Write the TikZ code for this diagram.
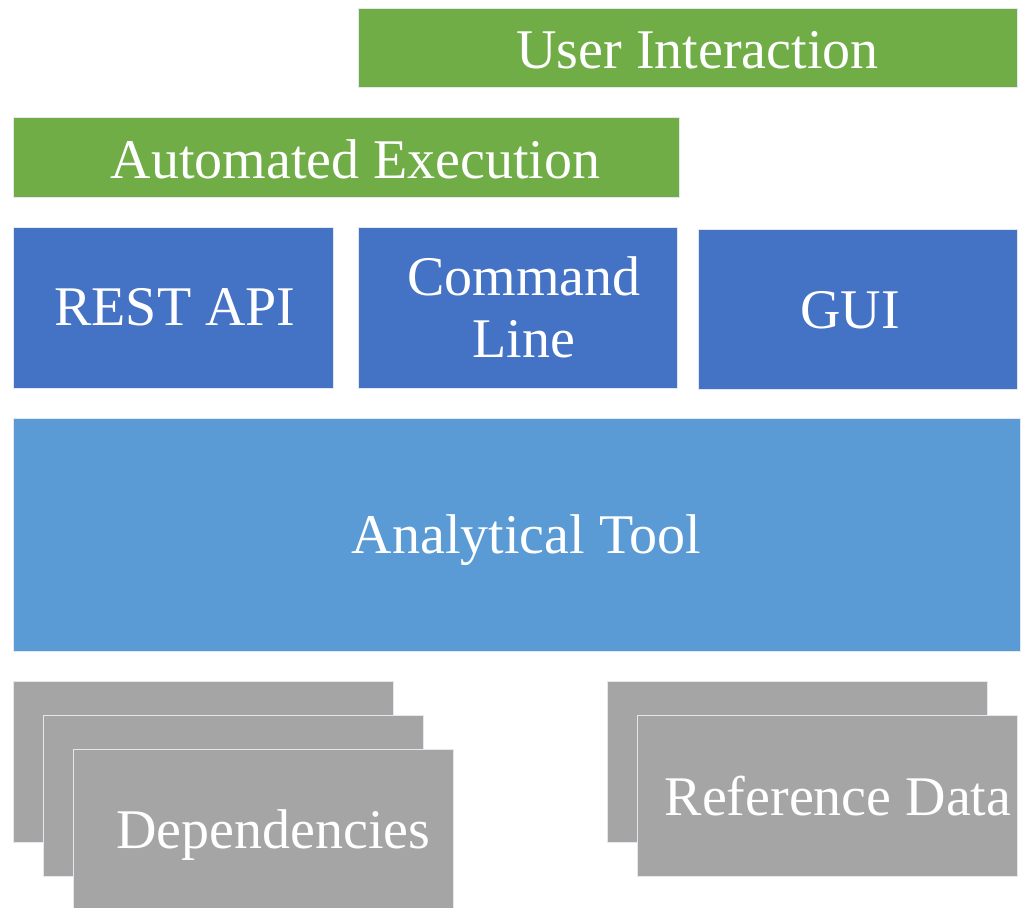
\documentclass[tikz,border=0pt]{standalone}
\usepackage{fontspec}
\setmainfont{Liberation Serif}
\definecolor{grn}{HTML}{70AD47}
\definecolor{blu}{HTML}{4472C4}
\definecolor{lblu}{HTML}{5B9BD5}
\definecolor{gry}{HTML}{A5A5A5}
\definecolor{edge}{HTML}{E4E8EE}
\begin{document}
\begin{tikzpicture}[x=0.75pt,y=-0.75pt,
  box/.style={draw=edge, line width=0.6pt, inner sep=0pt, anchor=north west},
  lbl/.style={text=white, font=\fontsize{42}{46.5}\selectfont, align=center, inner sep=0pt, anchor=base}]
\useasboundingbox (0,0) rectangle (1024,907);
% green bars
\node[box, fill=grn, minimum width=659*0.75pt, minimum height=79*0.75pt] (ui) at (358,8) {};
\node[box, fill=grn, minimum width=666*0.75pt, minimum height=80*0.75pt] (ae) at (13,117) {};
% blue boxes
\node[box, fill=blu, minimum width=320*0.75pt, minimum height=161*0.75pt] (rest) at (13,227) {};
\node[box, fill=blu, minimum width=319*0.75pt, minimum height=161*0.75pt] (cmd) at (358,227) {};
\node[box, fill=blu, minimum width=319*0.75pt, minimum height=160*0.75pt] (gui) at (698,229) {};
% analytical tool
\node[box, fill=lblu, minimum width=1007*0.75pt, minimum height=233*0.75pt] (at) at (13,418) {};
% dependencies stack
\node[box, fill=gry, minimum width=380*0.75pt, minimum height=161*0.75pt] (d1) at (13,681) {};
\node[box, fill=gry, minimum width=380*0.75pt, minimum height=161*0.75pt] (d2) at (43,715) {};
\node[box, fill=gry, minimum width=380*0.75pt, minimum height=160*0.75pt] (d3) at (73,749) {};
% reference data stack
\node[box, fill=gry, minimum width=380*0.75pt, minimum height=161*0.75pt] (r1) at (607,681) {};
\node[box, fill=gry, minimum width=380*0.75pt, minimum height=161*0.75pt] (r2) at (637,715) {};
% labels
\node[lbl] (tui) at (697.5,68) {User Interaction};
\node[lbl] (tae) at (355.5,178) {Automated Execution};
\node[lbl] (trest) at (175,325) {REST API};
\node[lbl] (tcmd) at (524,357) {Command\\Line};
\node[lbl] (tgui) at (850,328) {GUI};
\node[lbl] (tat) at (526.5,553) {Analytical Tool};
\node[lbl] (tdep) at (273.5,848) {Dependencies};
\node[lbl] (tref) at (838,815) {Reference Data};
\end{tikzpicture}
\end{document}
